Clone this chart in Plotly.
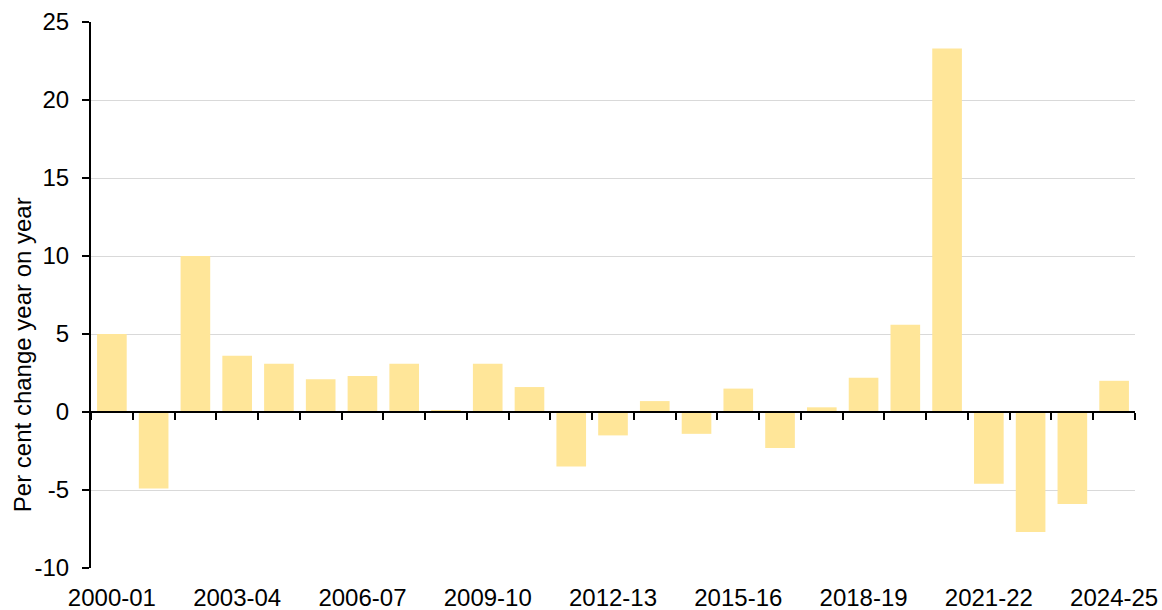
import plotly.graph_objects as go

years = ["2000-01", "2001-02", "2002-03", "2003-04", "2004-05", "2005-06", "2006-07",
         "2007-08", "2008-09", "2009-10", "2010-11", "2011-12", "2012-13", "2013-14",
         "2014-15", "2015-16", "2016-17", "2017-18", "2018-19", "2019-20", "2020-21",
         "2021-22", "2022-23", "2023-24", "2024-25"]
change = [5.0, -4.9, 10.0, 3.6, 3.1, 2.1, 2.3, 3.1, 0.1, 3.1, 1.6, -3.5, -1.5, 0.7,
          -1.4, 1.5, -2.3, 0.3, 2.2, 5.6, 23.3, -4.6, -7.7, -5.9, 2.0]
tick_labels = ["2000-01", "2003-04", "2006-07", "2009-10", "2012-13", "2015-16",
               "2018-19", "2021-22", "2024-25"]
y_ticks = [-10, -5, 0, 5, 10, 15, 20, 25]
y_tick_text = ["-10", "-5", "0", "5", "10", "15", "20", "25"]
y_title = "Per cent change year on year"

font = "Liberation Sans, Arial, sans-serif"
ymin, ymax = -10, 25

fig = go.Figure()
fig.add_trace(go.Bar(x=years, y=change, marker=dict(color="#FFE699", line=dict(width=0)),
                     showlegend=False))
# invisible trace on secondary x axis to hold the zero-line axis with boundary ticks
fig.add_trace(go.Bar(x=years, y=[None] * len(years), xaxis="x2", showlegend=False,
                     hoverinfo="skip"))

fig.update_layout(
    width=1162, height=610,
    margin=dict(l=91, r=27, t=22, b=42),
    paper_bgcolor="white", plot_bgcolor="white",
    font=dict(family=font, size=24, color="black"),
    bargap=0.29,
    xaxis=dict(
        type="category", categoryorder="array", categoryarray=years,
        tickmode="array", tickvals=tick_labels, ticktext=tick_labels,
        showgrid=False, showline=False, ticks="", zeroline=False,
        tickfont=dict(size=24), ticklabelstandoff=13, automargin=False,
    ),
    xaxis2=dict(
        type="category", categoryorder="array", categoryarray=years,
        overlaying="x", anchor="free", position=(0 - ymin) / (ymax - ymin),
        showline=True, linecolor="black", linewidth=2,
        ticks="outside", tickson="boundaries", ticklen=7, tickwidth=2, tickcolor="black",
        showticklabels=False, showgrid=False, zeroline=False,
        matches="x", automargin=False,
    ),
    yaxis=dict(
        range=[ymin, ymax], tickmode="array", tickvals=y_ticks, ticktext=y_tick_text,
        showgrid=True, gridcolor="#D9D9D9", gridwidth=1,
        showline=True, linecolor="black", linewidth=2,
        ticks="outside", ticklen=7, tickwidth=2, tickcolor="black",
        zeroline=False, ticklabelstandoff=8, automargin=False,
        tickfont=dict(size=24),
    ),
    annotations=[dict(
        text=y_title, textangle=-90, showarrow=False,
        xref="paper", yref="paper", x=-0.066, y=0.39,
        xanchor="center", yanchor="middle", font=dict(size=24),
    )],
)

fig.write_html(
    "out.html",
    config={"displayModeBar": False},
    post_script="document.body.style.margin='0';document.body.style.overflow='hidden';",
)
